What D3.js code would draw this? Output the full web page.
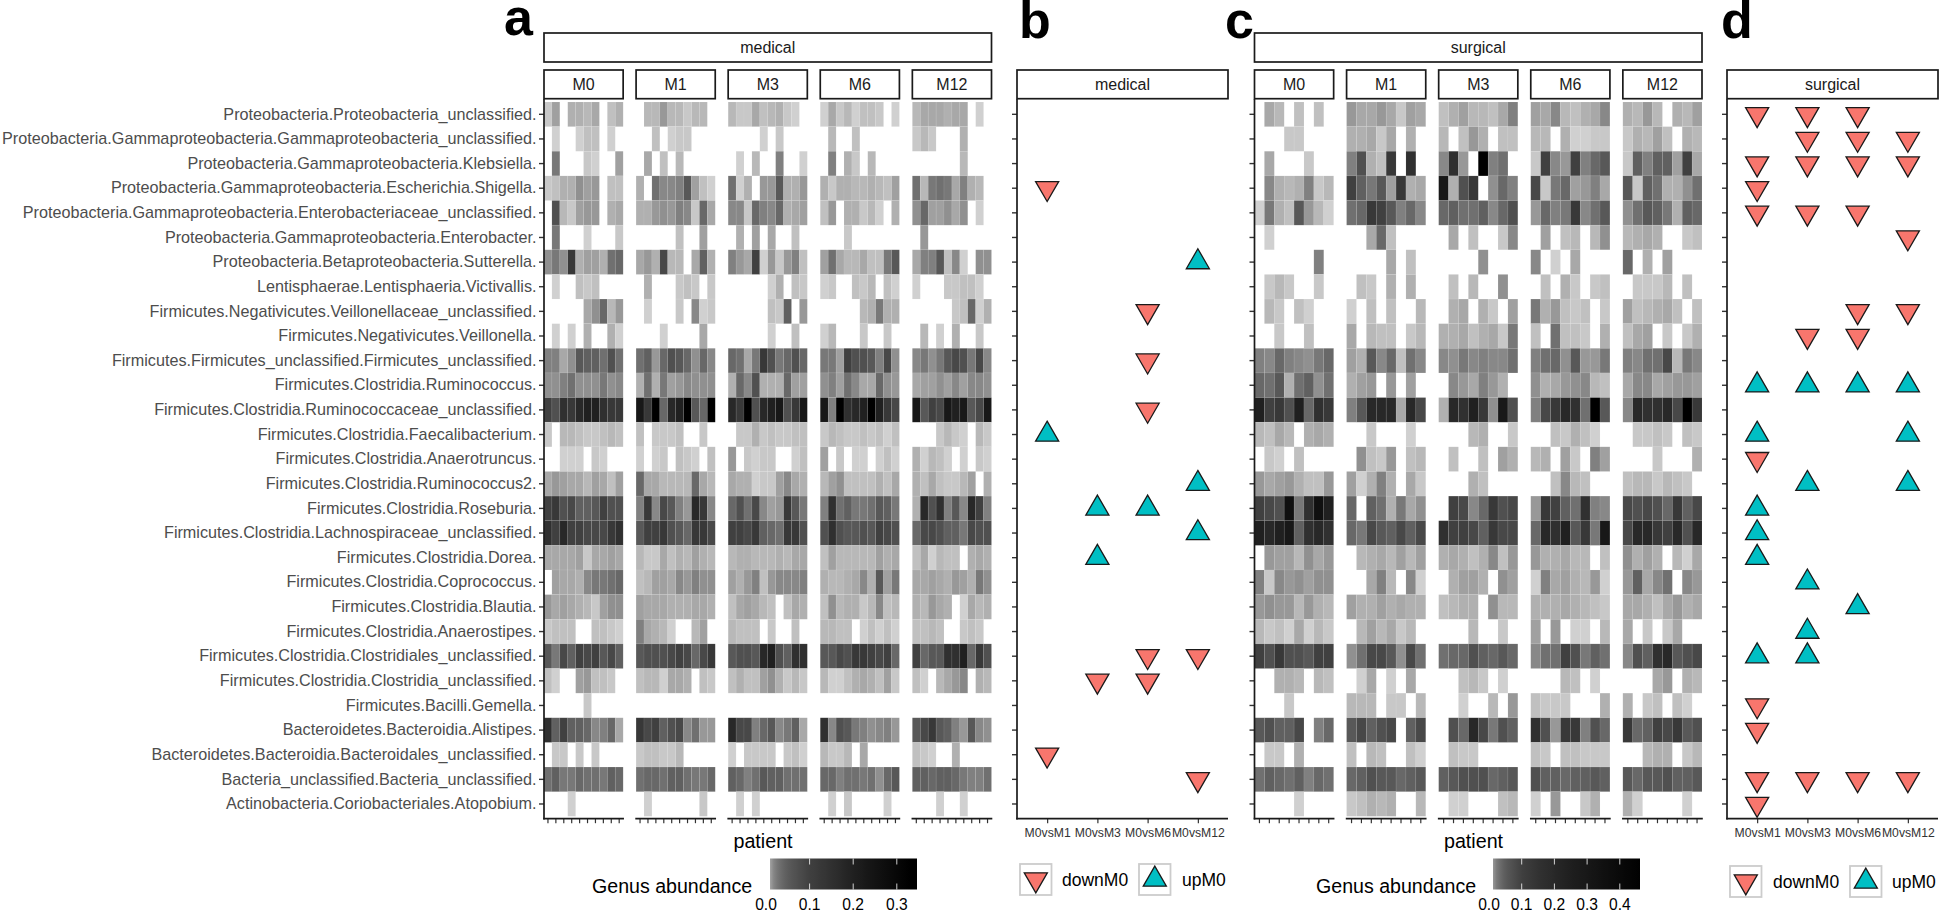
<!DOCTYPE html>
<html><head><meta charset="utf-8">
<script src="https://cdn.jsdelivr.net/npm/d3@7/dist/d3.min.js"></script>
<style>html,body{margin:0;padding:0;background:#fff}svg{display:block}text{font-family:"Liberation Sans",Arial,sans-serif}</style>
</head><body><svg id="c" width="1942" height="916"></svg>
<script>
const taxa=["Proteobacteria.Proteobacteria_unclassified.","Proteobacteria.Gammaproteobacteria.Gammaproteobacteria_unclassified.","Proteobacteria.Gammaproteobacteria.Klebsiella.","Proteobacteria.Gammaproteobacteria.Escherichia.Shigella.","Proteobacteria.Gammaproteobacteria.Enterobacteriaceae_unclassified.","Proteobacteria.Gammaproteobacteria.Enterobacter.","Proteobacteria.Betaproteobacteria.Sutterella.","Lentisphaerae.Lentisphaeria.Victivallis.","Firmicutes.Negativicutes.Veillonellaceae_unclassified.","Firmicutes.Negativicutes.Veillonella.","Firmicutes.Firmicutes_unclassified.Firmicutes_unclassified.","Firmicutes.Clostridia.Ruminococcus.","Firmicutes.Clostridia.Ruminococcaceae_unclassified.","Firmicutes.Clostridia.Faecalibacterium.","Firmicutes.Clostridia.Anaerotruncus.","Firmicutes.Clostridia.Ruminococcus2.","Firmicutes.Clostridia.Roseburia.","Firmicutes.Clostridia.Lachnospiraceae_unclassified.","Firmicutes.Clostridia.Dorea.","Firmicutes.Clostridia.Coprococcus.","Firmicutes.Clostridia.Blautia.","Firmicutes.Clostridia.Anaerostipes.","Firmicutes.Clostridia.Clostridiales_unclassified.","Firmicutes.Clostridia.Clostridia_unclassified.","Firmicutes.Bacilli.Gemella.","Bacteroidetes.Bacteroidia.Alistipes.","Bacteroidetes.Bacteroidia.Bacteroidales_unclassified.","Bacteria_unclassified.Bacteria_unclassified.","Actinobacteria.Coriobacteriales.Atopobium."];
const months=["M0","M1","M3","M6","M12"];
const comparisons=["M0vsM1","M0vsM3","M0vsM6","M0vsM12"];
const medicalTicks=[0,0.1,0.2,0.3];
const surgicalTicks=[0,0.1,0.2,0.3,0.4];
// abundance x 1000 per taxon (rows) and patient (columns); 0 = not detected
const medM0=[[3,10,0,7,7,5,8,0,4,7],[0,2,0,0,2,4,4,0,2,0],[0,25,0,0,0,3,2,0,0,10],[3,4,7,7,14,10,12,0,4,4],[0,70,5,3,10,12,12,0,7,8],[0,25,0,0,0,2,0,0,0,3],[14,25,14,125,7,10,10,7,30,37],[0,2,0,0,4,3,4,0,0,0],[0,0,0,0,0,8,14,37,5,12],[0,2,0,2,0,7,0,0,7,2],[20,20,8,14,55,45,45,30,70,30],[14,14,20,30,14,14,14,25,14,17],[100,70,150,125,175,200,200,150,125,125],[3,0,5,5,4,3,3,4,5,4],[0,0,2,2,2,0,3,2,0,0],[8,12,10,8,8,5,10,8,4,10],[100,125,70,85,45,45,55,100,70,70],[150,100,175,100,100,85,85,85,125,150],[8,8,8,8,10,3,8,8,10,8],[0,10,8,8,7,17,25,25,30,37],[12,8,10,8,7,5,3,10,14,14],[3,4,4,4,0,0,4,4,3,2],[55,25,85,45,100,85,100,55,85,45],[4,2,0,0,10,12,4,4,3,0],[0,0,0,0,0,3,0,0,0,0],[150,45,100,45,45,37,17,20,37,8],[0,3,3,0,3,0,3,0,0,0],[30,45,25,25,37,30,30,25,45,37],[0,0,0,2,0,0,0,0,0,0]];
const medM1=[[0,5,5,12,5,5,3,5,5,0],[0,0,4,0,2,3,3,0,0,0],[0,8,0,4,0,5,0,0,0,0],[7,0,30,17,17,20,55,10,4,2],[7,7,12,14,12,20,17,3,37,8],[0,0,0,0,0,4,0,0,10,0],[8,12,7,85,5,5,0,8,45,7],[0,7,0,0,0,3,4,3,0,3],[0,2,0,0,0,3,0,17,2,3],[0,0,0,2,0,0,0,0,8,0],[30,45,12,37,70,55,37,14,37,17],[7,30,7,25,10,12,17,14,14,14],[230,125,330,37,175,200,330,55,37,330],[4,0,3,3,3,4,0,0,3,0],[2,0,2,3,0,4,3,2,0,4],[37,8,8,5,5,5,5,37,8,5],[20,125,17,85,55,20,12,175,125,17],[55,100,100,125,70,55,37,125,125,85],[5,3,3,8,4,7,5,10,7,5],[4,5,10,10,8,17,12,20,14,14],[10,8,8,8,7,7,7,8,8,7],[20,8,7,5,2,0,0,5,10,0],[55,70,70,70,85,100,85,37,85,125],[4,5,5,2,8,8,7,0,4,3],[0,0,0,0,0,0,0,0,0,0],[125,85,100,45,70,85,17,30,12,12],[3,4,4,3,3,5,0,0,0,0],[30,37,37,30,45,45,30,25,25,37],[0,2,0,0,0,0,0,0,3,0]];
const medM3=[[5,3,3,8,4,5,7,3,2,0],[0,0,0,0,2,0,3,0,0,0],[0,2,0,5,0,0,20,0,0,2],[30,2,7,0,12,12,55,7,7,12],[17,17,3,37,20,17,37,7,8,10],[0,7,0,10,0,8,0,0,4,0],[20,12,8,100,2,12,3,12,20,4],[0,0,0,0,0,2,7,0,4,3],[0,0,0,0,0,4,3,45,0,12],[0,0,0,0,0,2,0,0,4,0],[37,30,8,25,125,70,25,37,70,37],[7,37,17,70,7,7,7,37,10,10],[175,125,330,70,175,200,230,70,125,230],[0,3,3,7,3,4,3,3,4,4],[12,0,3,2,3,3,0,0,2,4],[8,7,7,2,3,3,10,17,8,7],[37,70,30,85,17,10,12,125,55,25],[100,100,85,125,45,37,30,125,125,70],[5,7,7,5,5,5,7,5,8,8],[10,7,12,20,4,12,17,17,17,20],[4,8,10,8,5,4,0,4,8,7],[5,4,4,4,0,3,0,0,4,0],[55,70,70,55,175,200,70,45,150,150],[4,7,4,4,10,14,7,3,5,3],[0,0,0,0,0,0,0,0,0,0],[175,85,85,20,37,55,17,25,45,8],[2,0,3,3,3,3,0,3,4,2],[45,37,20,30,55,45,45,30,30,30],[0,2,0,2,0,0,0,0,0,0]];
const medM6=[[2,8,3,5,2,4,4,3,0,2],[0,5,0,0,4,0,0,0,0,0],[0,20,0,7,3,0,5,0,0,0],[7,3,7,7,5,5,7,5,4,10],[4,12,0,7,7,3,5,2,0,7],[0,0,0,3,0,0,0,0,0,0],[10,30,8,5,5,8,4,4,25,55],[2,3,0,0,4,3,5,0,4,2],[0,0,0,0,0,5,7,25,7,7],[2,5,0,0,0,3,0,0,3,0],[25,25,10,100,70,70,55,20,85,14],[14,20,10,30,17,8,8,37,14,12],[230,20,330,150,175,200,330,200,125,85],[3,5,4,3,3,4,3,4,2,4],[10,0,3,0,2,2,0,2,4,2],[5,10,14,4,4,4,4,7,4,8],[20,150,30,45,25,25,30,55,45,25],[70,150,70,55,55,70,55,100,85,70],[4,10,5,5,5,5,5,10,7,8],[7,5,5,7,8,17,7,55,10,25],[4,14,5,7,7,3,5,17,4,5],[5,5,4,4,0,2,4,2,4,2],[55,55,85,70,125,125,100,85,100,37],[5,2,2,4,7,8,7,4,10,3],[0,0,0,0,0,0,0,0,0,0],[150,17,70,55,25,20,14,17,20,12],[5,3,3,5,0,8,0,0,0,0],[37,37,20,30,30,25,30,14,37,55],[0,2,0,3,0,0,0,0,2,0]];
const medM12=[[5,8,8,8,7,8,8,0,2,0],[3,5,3,0,0,0,7,0,0,0],[0,0,0,0,0,0,5,0,0,0],[30,5,25,30,25,8,20,7,5,0],[14,37,10,10,14,8,14,0,2,0],[0,12,0,0,0,0,0,0,0,0],[8,20,20,55,4,17,2,0,14,14],[2,0,0,0,3,3,4,4,2,0],[0,0,0,0,0,3,4,37,2,7],[0,5,0,2,0,7,0,0,3,0],[17,25,14,25,55,85,70,25,85,17],[8,10,10,14,10,17,10,17,17,14],[230,55,100,85,230,200,230,55,85,230],[0,0,0,3,5,3,2,0,5,3],[7,2,5,4,2,0,2,0,3,2],[7,4,8,4,3,3,5,10,0,7],[7,175,70,150,20,55,17,175,100,20],[37,85,85,70,45,45,25,85,70,70],[4,8,2,5,4,4,0,7,8,7],[8,8,10,8,7,12,10,7,25,14],[7,5,12,8,7,0,2,8,5,7],[4,4,5,4,0,0,3,4,3,0],[100,37,55,55,150,150,200,37,125,70],[4,2,0,5,8,12,17,0,7,5],[0,0,0,0,0,0,0,0,0,0],[55,85,125,55,45,20,12,55,17,14],[4,3,2,0,0,7,0,0,0,0],[45,45,37,45,45,37,25,20,20,30],[0,0,0,2,0,0,2,0,0,0]];
const surM0=[[0,8,5,0,4,0,4,0],[0,0,0,3,3,0,0,0],[0,8,0,0,0,3,0,0],[0,17,7,5,7,20,3,5],[2,25,7,4,55,12,5,2],[0,2,0,0,0,0,0,0],[0,0,0,0,0,0,20,0],[0,3,5,3,0,0,3,0],[0,5,3,0,4,2,0,0],[0,0,3,0,0,4,0,0],[20,17,37,20,17,14,25,37],[37,30,55,7,30,45,14,30],[240,100,130,70,240,37,160,130],[5,4,8,5,0,7,8,7],[0,3,2,0,4,0,0,0],[12,8,10,12,7,4,4,12],[100,85,70,350,25,160,350,240],[240,200,240,300,45,160,200,160],[0,12,10,10,5,14,8,12],[20,3,17,12,14,10,14,14],[12,14,12,12,5,12,7,5],[5,3,4,2,8,2,5,3],[100,70,130,70,70,55,100,100],[0,0,7,7,5,0,5,4],[0,0,0,3,0,0,0,0],[55,70,45,45,85,0,20,37],[0,3,3,0,7,0,0,0],[30,45,37,30,45,20,37,30],[0,0,0,0,2,0,0,0]];
const surM1=[[12,8,8,12,8,3,10,8],[7,7,8,3,8,0,7,0],[20,70,7,4,130,0,160,0],[100,45,25,55,10,130,7,8],[30,37,130,100,55,20,37,17],[0,0,8,37,4,0,0,0],[0,0,0,0,8,0,4,0],[0,4,3,0,7,0,7,0],[2,0,4,0,4,0,0,5],[8,0,5,4,4,0,3,5],[10,7,55,17,37,4,30,17],[7,10,12,0,12,0,10,0],[20,55,200,200,200,8,200,85],[0,0,3,0,0,0,2,0],[0,14,4,3,12,0,4,5],[10,2,7,20,7,0,8,3],[37,0,45,30,7,25,8,14],[37,25,85,55,45,85,45,85],[0,5,7,8,5,10,5,10],[0,0,8,20,5,0,17,2],[10,7,7,10,7,8,7,7],[0,5,10,5,8,3,5,0],[14,30,85,85,55,14,85,30],[0,2,8,0,2,0,8,0],[5,5,5,0,3,3,0,5],[55,85,45,70,85,0,45,85],[4,0,5,4,0,0,4,2],[37,45,70,55,55,37,45,55],[3,4,7,5,7,0,0,5]];
const surM3=[[4,7,10,5,5,4,8,20],[5,0,4,12,7,0,4,4],[17,160,12,0,470,20,30,0],[300,7,70,130,0,14,37,20],[37,45,30,30,45,17,37,70],[0,8,0,4,0,0,3,17],[0,0,0,0,14,0,0,0],[0,4,0,5,0,0,14,0],[0,7,8,0,7,3,0,10],[7,7,8,4,7,8,3,25],[17,14,25,17,20,17,17,30],[0,17,12,8,20,12,7,0],[7,200,160,240,130,14,300,70],[0,0,0,5,7,0,0,3],[0,4,0,0,4,0,10,7],[0,0,0,7,4,0,0,0],[0,100,85,17,37,130,70,85],[160,100,100,85,45,130,85,85],[7,8,7,4,7,17,4,12],[0,7,10,10,7,0,14,10],[4,5,7,7,0,14,5,5],[0,0,0,5,0,0,3,0],[30,37,37,70,45,37,55,37],[0,0,4,5,3,0,2,0],[0,0,2,0,0,5,0,12],[0,70,37,200,85,25,70,45],[0,4,3,3,0,0,0,0],[45,55,70,70,70,37,45,55],[0,2,2,0,0,0,4,5]];
const surM6=[[10,8,17,5,4,7,8,17],[5,5,0,7,2,2,3,3],[3,100,17,12,100,20,37,55],[85,3,25,37,10,12,20,8],[12,37,20,25,130,17,30,55],[0,10,0,4,5,0,5,14],[17,0,2,0,8,0,0,0],[0,4,0,7,3,0,3,4],[25,7,12,4,3,4,0,3],[4,0,30,4,4,3,0,7],[20,30,37,14,55,12,12,25],[14,7,8,12,14,17,5,4],[20,85,130,200,160,30,470,55],[0,0,4,3,7,4,2,0],[5,7,0,10,3,0,20,10],[0,0,4,17,5,4,0,0],[12,130,100,45,30,160,20,17],[37,200,160,240,55,130,25,300],[12,7,7,8,5,5,0,4],[2,20,8,10,7,5,12,2],[7,7,7,8,7,5,4,3],[10,0,12,0,2,2,0,5],[17,30,30,100,70,25,45,30],[0,0,0,5,4,0,2,0],[4,3,3,3,0,0,0,7],[160,70,12,130,130,20,70,37],[4,3,0,4,4,3,3,3],[70,45,45,37,45,45,55,45],[2,0,12,0,0,3,7,0]];
const surM12=[[7,5,12,5,0,7,5,10],[3,7,5,10,4,0,7,5],[3,45,20,45,45,10,100,8],[55,3,45,30,7,7,14,30],[14,30,55,45,25,7,45,37],[5,7,8,7,0,0,3,4],[37,0,7,0,10,0,0,0],[0,3,3,3,5,0,4,0],[10,4,5,7,8,4,0,4],[4,8,10,0,3,0,3,7],[20,17,30,30,85,5,25,17],[8,17,17,8,10,12,12,10],[17,200,160,160,200,85,470,130],[0,3,3,4,3,0,4,3],[0,0,0,3,0,0,0,7],[4,5,5,3,5,4,3,0],[85,70,85,70,37,130,45,85],[85,200,200,130,100,200,70,200],[14,7,10,7,0,5,2,8],[12,45,8,17,30,0,17,12],[8,8,7,4,8,12,7,8],[8,0,3,0,3,8,0,0],[17,70,45,160,200,55,70,85],[0,0,0,8,12,0,7,5],[7,0,3,4,0,4,2,0],[130,37,45,100,85,130,55,70],[0,0,5,7,7,0,3,5],[55,37,55,55,70,45,45,55],[7,2,0,0,0,0,2,0]];
// significant changes: [taxon row number (1-based), comparison index, direction]
const medicalChanges=[[4,0,"downM0"],[14,0,"upM0"],[27,0,"downM0"],[17,1,"upM0"],[19,1,"upM0"],[24,1,"downM0"],[9,2,"downM0"],[11,2,"downM0"],[13,2,"downM0"],[17,2,"upM0"],[23,2,"downM0"],[24,2,"downM0"],[7,3,"upM0"],[16,3,"upM0"],[18,3,"upM0"],[23,3,"downM0"],[28,3,"downM0"]];
const surgicalChanges=[[1,0,"downM0"],[3,0,"downM0"],[4,0,"downM0"],[5,0,"downM0"],[12,0,"upM0"],[14,0,"upM0"],[15,0,"downM0"],[17,0,"upM0"],[18,0,"upM0"],[19,0,"upM0"],[23,0,"upM0"],[25,0,"downM0"],[26,0,"downM0"],[28,0,"downM0"],[29,0,"downM0"],[1,1,"downM0"],[2,1,"downM0"],[3,1,"downM0"],[5,1,"downM0"],[10,1,"downM0"],[12,1,"upM0"],[16,1,"upM0"],[20,1,"upM0"],[22,1,"upM0"],[23,1,"upM0"],[28,1,"downM0"],[1,2,"downM0"],[2,2,"downM0"],[3,2,"downM0"],[5,2,"downM0"],[9,2,"downM0"],[10,2,"downM0"],[12,2,"upM0"],[21,2,"upM0"],[28,2,"downM0"],[2,3,"downM0"],[3,3,"downM0"],[6,3,"downM0"],[9,3,"downM0"],[12,3,"upM0"],[14,3,"upM0"],[16,3,"upM0"],[28,3,"downM0"]];
const greyStops=["#d0d0d0","#c8c8c8","#c0c0c0","#b8b8b8","#b0b0b0","#a8a8a8","#a0a0a0","#989898","#909090","#888888","#808080","#787878","#707070","#686868","#606060","#585858","#505050","#484848","#404040","#383838","#303030","#282828","#202020","#181818","#101010","#080808","#000000"];
const medicalStops=[2,3,4,5,7,8,10,12,14,17,20,25,30,37,45,55,70,85,100,125,150,175,200,230,260,295,330];
const surgicalStops=[2,3,4,5,7,8,10,12,14,17,20,25,30,37,45,55,70,85,100,130,160,200,240,300,350,410,470];

const svg=d3.select("#c");
const ink="#1a1a1a";
const y=d3.scaleBand().domain(taxa).range([102,816.3]);
const panelBottom=818.7,panelTop=99;

function strip(x0,x1,y0,y1,label){
  svg.append("rect").attr("x",x0).attr("y",y0).attr("width",x1-x0).attr("height",y1-y0).attr("fill","#fff").attr("stroke",ink).attr("stroke-width",1.7);
  svg.append("text").attr("x",(x0+x1)/2).attr("y",(y0+y1)/2+5.6).attr("text-anchor","middle").attr("font-size",16).attr("fill",ink).text(label);
}
function styleAxis(g){
  g.selectAll(".domain").remove();
  g.selectAll("line").attr("stroke","#333").attr("stroke-width",1.4);
}
function leftAxis(x,showLabels){
  const g=svg.append("g").attr("transform",`translate(${x},0)`).call(d3.axisLeft(y).tickSize(5).tickPadding(2.5).tickFormat(showLabels?(d=>d):(()=>"")));
  styleAxis(g);
  g.selectAll("text").attr("font-size",16.2).attr("fill","#4d4d4d").attr("font-family",'"Liberation Sans",Arial,sans-serif');
  svg.append("line").attr("x1",x).attr("x2",x).attr("y1",panelTop).attr("y2",panelBottom+0.8).attr("stroke",ink).attr("stroke-width",1.7);
}
function heatPanel(x0,facets,top,colour,showLabels){
  const facetX=d3.scaleBand().domain(months).range([x0,x0+447.5]).paddingInner(0.1405).paddingOuter(0);
  strip(x0,x0+447.5,33,62,top);
  months.forEach((m,mi)=>{
    const fx=facetX(m),bw=facetX.bandwidth(),rows=facets[mi];
    const patients=d3.range(rows[0].length);
    const x=d3.scaleBand().domain(patients).range([fx,fx+bw]);
    strip(fx,fx+bw,70,98.7,m);
    const cells=rows.flatMap((r,ri)=>r.map((v,pi)=>({v,ri,pi}))).filter(d=>d.v>0);
    svg.append("g").selectAll("rect").data(cells).join("rect")
      .attr("x",d=>x(d.pi)).attr("y",d=>y(taxa[d.ri])).attr("width",x.bandwidth()).attr("height",y.bandwidth())
      .attr("fill",d=>colour(d.v)).attr("stroke","#fff").attr("stroke-opacity",0.12).attr("stroke-width",0.6);
    const ax=svg.append("g").attr("transform",`translate(0,${panelBottom})`).call(d3.axisBottom(x).tickSize(4.5).tickFormat(""));
    ax.selectAll(".domain").remove();
    ax.selectAll("line").attr("stroke","#333").attr("stroke-width",1.2);
    svg.append("line").attr("x1",fx-0.8).attr("x2",fx+bw+0.8).attr("y1",panelBottom).attr("y2",panelBottom).attr("stroke",ink).attr("stroke-width",1.7);
  });
  leftAxis(x0,showLabels);
  svg.append("text").attr("x",x0+219).attr("y",848).attr("text-anchor","middle").attr("font-size",19.7).attr("fill","#000").text("patient");
}
const marker=d3.symbol().type(d3.symbolTriangle).size(231);
const markerFill={downM0:"#F8766D",upM0:"#00BFC4"};
function tri(sel,dir){
  sel.attr("d",marker()).attr("fill",markerFill[dir]).attr("stroke",ink).attr("stroke-width",1.3);
}
function changesPanel(x0,label,changes,legendX,legendY,textX){
  strip(x0,x0+211,70,98.7,label);
  const x=d3.scalePoint().domain(comparisons).range([x0,x0+211]).padding(0.6);
  changes.forEach(([r,c,dir])=>{
    svg.append("path").call(tri,dir).attr("transform",`translate(${x(comparisons[c])},${y(taxa[r-1])+y.bandwidth()/2}) rotate(${dir==="downM0"?180:0})`);
  });
  const ax=svg.append("g").attr("transform",`translate(0,${panelBottom})`).call(d3.axisBottom(x).tickSize(4.5).tickPadding(5));
  ax.selectAll(".domain").remove();
  ax.selectAll("line").attr("stroke","#333").attr("stroke-width",1.2);
  ax.selectAll("text").attr("font-size",12.2).attr("fill","#333").attr("font-family",'"Liberation Sans",Arial,sans-serif');
  svg.append("line").attr("x1",x0-0.8).attr("x2",x0+211).attr("y1",panelBottom).attr("y2",panelBottom).attr("stroke",ink).attr("stroke-width",1.7);
  leftAxis(x0,false);
  ["downM0","upM0"].forEach((dir,i)=>{
    svg.append("rect").attr("x",legendX[i]).attr("y",legendY).attr("width",31.5).attr("height",31).attr("fill","#fff").attr("stroke","#ccc").attr("stroke-width",1.8);
    svg.append("path").call(tri,dir).attr("transform",`translate(${legendX[i]+15.8},${legendY+15.5}) rotate(${dir==="downM0"?180:0})`);
    svg.append("text").attr("x",textX[i]).attr("y",legendY+22).attr("font-size",17.5).attr("fill","#000").text(dir);
  });
}
function colourLegend(id,x0,x1,zeroX,perTenth,ticks,colour,titleX){
  const y0=858.5,h=31;
  const v=d3.scaleLinear().domain([0,0.1]).range([zeroX,zeroX+perTenth]);
  const grad=svg.append("defs").append("linearGradient").attr("id",id);
  d3.range(0,41).forEach(i=>{
    const px=x0+(x1-x0)*i/40;
    grad.append("stop").attr("offset",(i/40*100)+"%").attr("stop-color",colour(Math.max(v.invert(px)*1000,8)));
  });
  svg.append("rect").attr("x",x0).attr("y",y0).attr("width",x1-x0).attr("height",h).attr("fill",`url(#${id})`);
  ticks.forEach(t=>{
    if(t>0){
      svg.append("line").attr("x1",v(t)).attr("x2",v(t)).attr("y1",y0).attr("y2",y0+6).attr("stroke","#fff").attr("stroke-width",0.8);
      svg.append("line").attr("x1",v(t)).attr("x2",v(t)).attr("y1",y0+h-6).attr("y2",y0+h).attr("stroke","#fff").attr("stroke-width",0.8);
    }
    svg.append("text").attr("x",v(t)).attr("y",910).attr("text-anchor","middle").attr("font-size",15.6).attr("fill","#000").text(t.toFixed(1));
  });
  svg.append("text").attr("x",titleX).attr("y",893).attr("font-size",19.6).attr("fill","#000").text("Genus abundance");
}
const medColour=d3.scaleLinear().domain(medicalStops).range(greyStops).clamp(true);
const surColour=d3.scaleLinear().domain(surgicalStops).range(greyStops).clamp(true);

heatPanel(544,[medM0,medM1,medM3,medM6,medM12],"medical",medColour,true);
changesPanel(1017,"medical",medicalChanges,[1020,1139],864,[1062,1182]);
heatPanel(1254.5,[surM0,surM1,surM3,surM6,surM12],"surgical",surColour,false);
changesPanel(1727,"surgical",surgicalChanges,[1730,1850],866,[1773,1892]);
colourLegend("gm",770,917,766,43.6,medicalTicks,medColour,592);
colourLegend("gs",1493,1640,1489,32.7,surgicalTicks,surColour,1316);

[["a",504,35],["b",1019,38],["c",1225,38],["d",1721,38]].forEach(([t,x,b])=>{
  svg.append("text").attr("x",x).attr("y",b).attr("font-size",52).attr("font-weight",700).attr("fill","#000").text(t);
});
</script></body></html>
